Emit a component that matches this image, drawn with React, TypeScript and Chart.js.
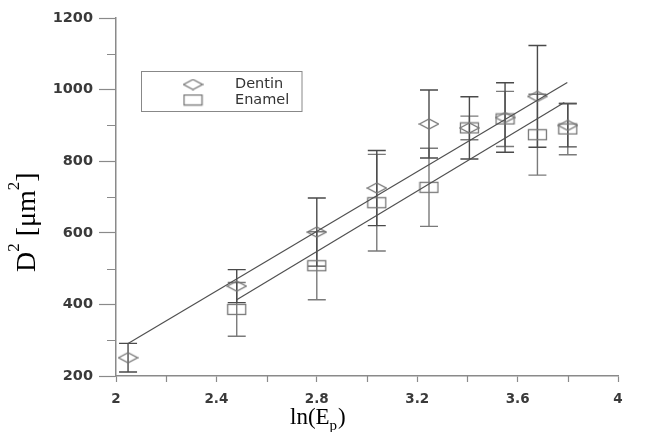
import { useEffect, useRef } from "react";
import { Chart, registerables } from "chart.js";
Chart.register(...registerables);

// ---- data ----
const dentinX = [2.048, 2.481, 2.8, 3.039, 3.247, 3.408, 3.55, 3.679, 3.8];
const dentinY = [251, 451, 602, 725, 904, 893, 922, 981, 900];
const dentinErr = [40, 46, 95, 105, 95, 87, 97, 142, 60];

const enamelX = [2.481, 2.8, 3.039, 3.247, 3.408, 3.55, 3.679, 3.8];
const enamelY = [386, 508, 684, 727, 893, 918, 874, 890];
const enamelErr = [75, 95, 135, 109, 33, 77, 113, 72];

const dentinFitX = [2.048, 3.798];
const dentinFitY = [291, 1020];
const enamelFitX = [2.481, 3.786];
const enamelFitY = [413, 964];

const xTicks = [2, 2.4, 2.8, 3.2, 3.6, 4];
const xMinor = [2.2, 2.6, 3.0, 3.4, 3.8];
const yTicks = [200, 400, 600, 800, 1000, 1200];
const yMinor = [300, 500, 700, 900, 1100];
const xTickLabels = ["2", "2.4", "2.8", "3.2", "3.6", "4"];
const yTickLabels = ["200", "400", "600", "800", "1000", "1200"];
const legendLabels = ["Dentin", "Enamel"];

const AXIS = "#8a8a8a";
const TXT = "#3a3a3a";

function makeDiamond(): HTMLCanvasElement {
  const c = document.createElement("canvas");
  c.width = 21;
  c.height = 12;
  const g = c.getContext("2d")!;
  g.strokeStyle = "#777";
  g.lineWidth = 1.3;
  g.beginPath();
  g.moveTo(1, 6);
  g.lineTo(10.5, 1);
  g.lineTo(20, 6);
  g.lineTo(10.5, 11);
  g.closePath();
  g.stroke();
  return c;
}

function makeRect(): HTMLCanvasElement {
  const c = document.createElement("canvas");
  c.width = 21;
  c.height = 13;
  const g = c.getContext("2d")!;
  g.strokeStyle = "#777";
  g.lineWidth = 1.3;
  g.strokeRect(1.5, 1.5, 18, 10);
  return c;
}

export default function App() {
  const ref = useRef<HTMLCanvasElement | null>(null);

  useEffect(() => {
    document.body.style.margin = "0";
    const canvas = ref.current!;
    const diamond = makeDiamond();
    const rect = makeRect();

    const errorBars = {
      id: "errorBars",
      beforeDatasetsDraw(chart: any) {
        const ctx = chart.ctx;
        const xs = chart.scales.x;
        const ys = chart.scales.y;
        const draw = (X: number[], Y: number[], E: number[], color: string) => {
          ctx.save();
          ctx.strokeStyle = color;
          ctx.lineWidth = 1.4;
          X.forEach((xv, i) => {
            const px = xs.getPixelForValue(xv);
            const t = ys.getPixelForValue(Y[i] + E[i]);
            const b = ys.getPixelForValue(Y[i] - E[i]);
            ctx.beginPath();
            ctx.moveTo(px, t);
            ctx.lineTo(px, b);
            ctx.moveTo(px - 9, t);
            ctx.lineTo(px + 9, t);
            ctx.moveTo(px - 9, b);
            ctx.lineTo(px + 9, b);
            ctx.stroke();
          });
          ctx.restore();
        };
        draw(enamelX, enamelY, enamelErr, "#7a7a7a");
        draw(dentinX, dentinY, dentinErr, "#4a4a4a");
      },
    };

    const extras = {
      id: "extras",
      afterDraw(chart: any) {
        const ctx = chart.ctx;
        const xs = chart.scales.x;
        const ys = chart.scales.y;
        const area = chart.chartArea;
        ctx.save();
        // minor ticks
        ctx.strokeStyle = AXIS;
        ctx.lineWidth = 1.2;
        ctx.beginPath();
        yMinor.forEach((v) => {
          const py = Math.round(ys.getPixelForValue(v)) + 0.5;
          ctx.moveTo(area.left - 9, py);
          ctx.lineTo(area.left, py);
        });
        xMinor.forEach((v) => {
          const px = Math.round(xs.getPixelForValue(v)) + 0.5;
          ctx.moveTo(px, area.bottom);
          ctx.lineTo(px, area.bottom + 6);
        });
        ctx.stroke();

        // legend
        ctx.strokeStyle = "#888";
        ctx.lineWidth = 1;
        ctx.strokeRect(141.5, 71.5, 160.5, 40);
        ctx.drawImage(diamond, 193 - 10.5, 84.5 - 6);
        ctx.drawImage(rect, 193 - 10.5, 100 - 6.5);
        ctx.fillStyle = "#333";
        ctx.font = "14.5px 'DejaVu Sans'";
        ctx.textBaseline = "middle";
        ctx.textAlign = "left";
        ctx.fillText(legendLabels[0], 235, 84.5);
        ctx.fillText(legendLabels[1], 235, 100);

        // x title: ln(E_p)
        ctx.fillStyle = "#000";
        ctx.textBaseline = "alphabetic";
        const big = "23px 'Liberation Serif'";
        const small = "15px 'Liberation Serif'";
        let x = 290;
        const base = 424;
        ctx.font = big;
        ctx.fillText("ln(E", x, base);
        x += ctx.measureText("ln(E").width;
        ctx.font = small;
        ctx.fillText("p", x, base + 6);
        x += ctx.measureText("p").width + 1;
        ctx.font = big;
        ctx.fillText(")", x, base);

        // y title: D^2 [μm^2]
        ctx.translate(35, 272);
        ctx.rotate(-Math.PI / 2);
        const ybig = "28px 'Liberation Serif'";
        const ysmall = "17px 'Liberation Serif'";
        let t = 0;
        ctx.font = ybig;
        ctx.fillText("D", t, 0);
        t += ctx.measureText("D").width;
        ctx.font = ysmall;
        ctx.fillText("2", t, -16);
        t += ctx.measureText("2").width;
        ctx.font = ybig;
        ctx.fillText(" [μm", t, 0);
        t += ctx.measureText(" [μm").width;
        ctx.font = ysmall;
        ctx.fillText("2", t, -16);
        t += ctx.measureText("2").width;
        ctx.font = ybig;
        ctx.fillText("]", t, 0);
        ctx.restore();
      },
    };

    const chart = new Chart(canvas, {
      type: "scatter",
      data: {
        datasets: [
          {
            label: "Dentin fit",
            type: "line",
            data: dentinFitX.map((x, i) => ({ x, y: dentinFitY[i] })),
            borderColor: "#505050",
            borderWidth: 1.2,
            pointRadius: 0,
            fill: false,
          },
          {
            label: "Enamel fit",
            type: "line",
            data: enamelFitX.map((x, i) => ({ x, y: enamelFitY[i] })),
            borderColor: "#505050",
            borderWidth: 1.2,
            pointRadius: 0,
            fill: false,
          },
          {
            label: legendLabels[1],
            data: enamelX.map((x, i) => ({ x, y: enamelY[i] })),
            pointStyle: rect as any,
            pointRadius: 8,
          },
          {
            label: legendLabels[0],
            data: dentinX.map((x, i) => ({ x, y: dentinY[i] })),
            pointStyle: diamond as any,
            pointRadius: 8,
          },
        ],
      },
      options: {
        responsive: false,
        animation: false,
        devicePixelRatio: 1,
        layout: { padding: { top: 18, right: 49, left: 0, bottom: 0 } },
        plugins: {
          legend: { display: false },
          tooltip: { enabled: false },
          title: { display: false },
        },
        scales: {
          x: {
            type: "linear",
            min: 2,
            max: 4,
            afterFit: (s: any) => {
              s.height = 56;
            },
            afterBuildTicks: (s: any) => {
              s.ticks = xTicks.map((v) => ({ value: v }));
            },
            ticks: {
              autoSkip: false,
              maxRotation: 0,
              padding: 9,
              color: TXT,
              font: { family: "'DejaVu Sans'", size: 13.5, weight: "bold" },
              callback: (v: any) => {
                const i = xTicks.findIndex((t) => Math.abs(t - Number(v)) < 1e-6);
                return i >= 0 ? xTickLabels[i] : "";
              },
            },
            grid: {
              drawOnChartArea: false,
              drawTicks: true,
              tickLength: 6,
              tickColor: AXIS,
              tickWidth: 1.2,
            },
            border: { display: true, color: AXIS, width: 1.5 },
          },
          y: {
            type: "linear",
            min: 200,
            max: 1200,
            afterFit: (s: any) => {
              s.width = 116;
            },
            afterBuildTicks: (s: any) => {
              s.ticks = yTicks.map((v) => ({ value: v }));
            },
            ticks: {
              autoSkip: false,
              padding: 6,
              color: TXT,
              font: { family: "'DejaVu Sans'", size: 14.5, weight: "bold" },
              callback: (v: any) => {
                const i = yTicks.findIndex((t) => Math.abs(t - Number(v)) < 1e-6);
                return i >= 0 ? yTickLabels[i] : "";
              },
            },
            grid: {
              drawOnChartArea: false,
              drawTicks: true,
              tickLength: 17,
              tickColor: AXIS,
              tickWidth: 1.2,
            },
            border: { display: true, color: AXIS, width: 1.5 },
          },
        },
      },
      plugins: [errorBars, extras],
    } as any);

    return () => chart.destroy();
  }, []);

  return (
    <div style={{ width: 667, height: 432, background: "#fff" }}>
      <canvas ref={ref} width={667} height={432} style={{ display: "block", width: 667, height: 432 }} />
    </div>
  );
}
